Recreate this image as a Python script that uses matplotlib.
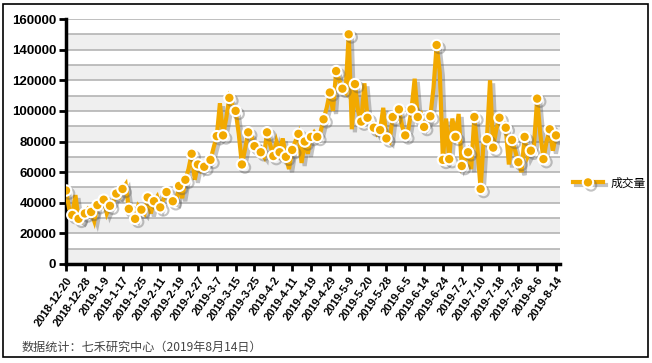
import matplotlib
matplotlib.use('Agg')
import matplotlib.pyplot as plt
import matplotlib.patheffects as pe
from matplotlib.ticker import MultipleLocator
from matplotlib.patches import Rectangle

plt.rcParams['font.family'] = ['Liberation Sans', 'Noto Sans CJK SC', 'DejaVu Sans']

# daily volume, one value per trading day (2018-12-20 .. 2019-8-14)
volume = [
    48000, 36000, 32000, 45000, 29500, 28000, 33000, 36000, 34000, 28000,
    38500, 40000, 42000, 33000, 38000, 40000, 46000, 44000, 49000, 52000,
    36000, 32000, 29500, 38000, 35500, 33000, 43500, 33000, 41000, 44000,
    37000, 42000, 47000, 45000, 41000, 40000, 51000, 43000, 55000, 62000,
    72000, 55000, 65000, 61000, 63500, 66000, 68000, 76000, 83500, 105000,
    84000, 95000, 108500, 104000, 100000, 85000, 65000, 75000, 86000, 84000,
    77000, 78000, 73000, 70000, 86000, 78000, 70500, 80000, 73000, 82000,
    70000, 62000, 74500, 80000, 85000, 66000, 80000, 72000, 83000, 86000,
    83000, 86000, 94500, 102000, 112000, 100000, 126000, 120000, 114500, 112000,
    150000, 88000, 117500, 100000, 93000, 118000, 95500, 92000, 89000, 85000,
    87500, 102000, 82000, 80000, 96000, 97000, 101000, 90000, 84000, 88000,
    101000, 121000, 96000, 98000, 89500, 92000, 96500, 115000, 143000, 125000,
    68000, 95000, 68500, 95000, 83000, 98000, 64000, 68000, 73000, 62000,
    96000, 75000, 49000, 82000, 81500, 120000, 76000, 88000, 95500, 93000,
    89000, 65000, 81000, 74000, 66500, 60000, 83000, 70000, 74000, 78000,
    108000, 85000, 68500, 80000, 88000, 74000, 84000,
]

tick_labels = [
    '2018-12-20', '2018-12-28', '2019-1-9', '2019-1-17', '2019-1-25',
    '2019-2-11', '2019-2-19', '2019-2-27', '2019-3-7', '2019-3-15',
    '2019-3-25', '2019-4-2', '2019-4-11', '2019-4-19', '2019-4-29',
    '2019-5-9', '2019-5-20', '2019-5-28', '2019-6-5', '2019-6-14',
    '2019-6-24', '2019-7-2', '2019-7-10', '2019-7-18', '2019-7-26',
    '2019-8-6', '2019-8-14',
]
tick_step = 6

orange = '#F2A900'

fig = plt.figure(figsize=(6.52, 3.63), dpi=100)
ax = fig.add_axes([66 / 652, 1 - 264 / 363, (560 - 66) / 652, (264 - 19) / 363])

# alternating background bands
for lo in range(0, 160000, 20000):
    ax.axhspan(lo, lo + 10000, color='#efefef', zorder=0, lw=0)

x = list(range(len(volume)))
shadow = [pe.SimpleLineShadow(offset=(2.2, -2.2), shadow_color='#555555', alpha=0.35), pe.Normal()]
ax.plot(x, volume, color=orange, lw=3, marker='o', markevery=2, ms=7.5,
        mfc=orange, mec='white', mew=1.5, label='成交量', zorder=3,
        solid_joinstyle='miter', path_effects=shadow)

ax.set_ylim(0, 160000)
ax.set_xlim(0, (len(volume) - 1) * 494 / 490)
ax.yaxis.set_major_locator(MultipleLocator(20000))
ax.yaxis.set_minor_locator(MultipleLocator(10000))
ax.grid(axis='y', which='both', color='#b4b4b4', lw=1.2, zorder=1)
ax.set_axisbelow(True)

ticks = list(range(0, len(volume), tick_step))
ax.set_xticks(ticks)
ax.set_xticklabels(tick_labels, rotation=55, ha='right', va='top',
                   rotation_mode='anchor', fontsize=8, fontweight='bold')
for lab in ax.get_yticklabels():
    lab.set_fontweight('bold')
ax.tick_params(axis='y', which='major', labelsize=9.5, length=5, width=2, pad=2)
ax.tick_params(axis='y', which='minor', length=0)
ax.tick_params(axis='x', length=5, width=2, pad=3)

for side in ['top', 'right']:
    ax.spines[side].set_visible(False)
ax.spines['left'].set_linewidth(2.5)
ax.spines['bottom'].set_linewidth(2.5)

fig.legend(loc='center left', bbox_to_anchor=(562 / 652, 1 - 183 / 363), frameon=False,
           handlelength=2.6, handletextpad=0.6, prop={'size': 8.5, 'family': ['Noto Sans CJK SC']})

fig.text(22 / 652, 1 - 347 / 363, '数据统计：七禾研究中心（2019年8月14日）',
         fontsize=8.7, color='#444444', va='center', family=['Noto Sans CJK SC', 'DejaVu Sans'])

fig.patches.append(Rectangle((3 / 652, 6 / 363), 645 / 652, 353 / 363, transform=fig.transFigure,
                             fill=False, edgecolor='black', lw=1.2))

fig.savefig('out.png', dpi=100)
